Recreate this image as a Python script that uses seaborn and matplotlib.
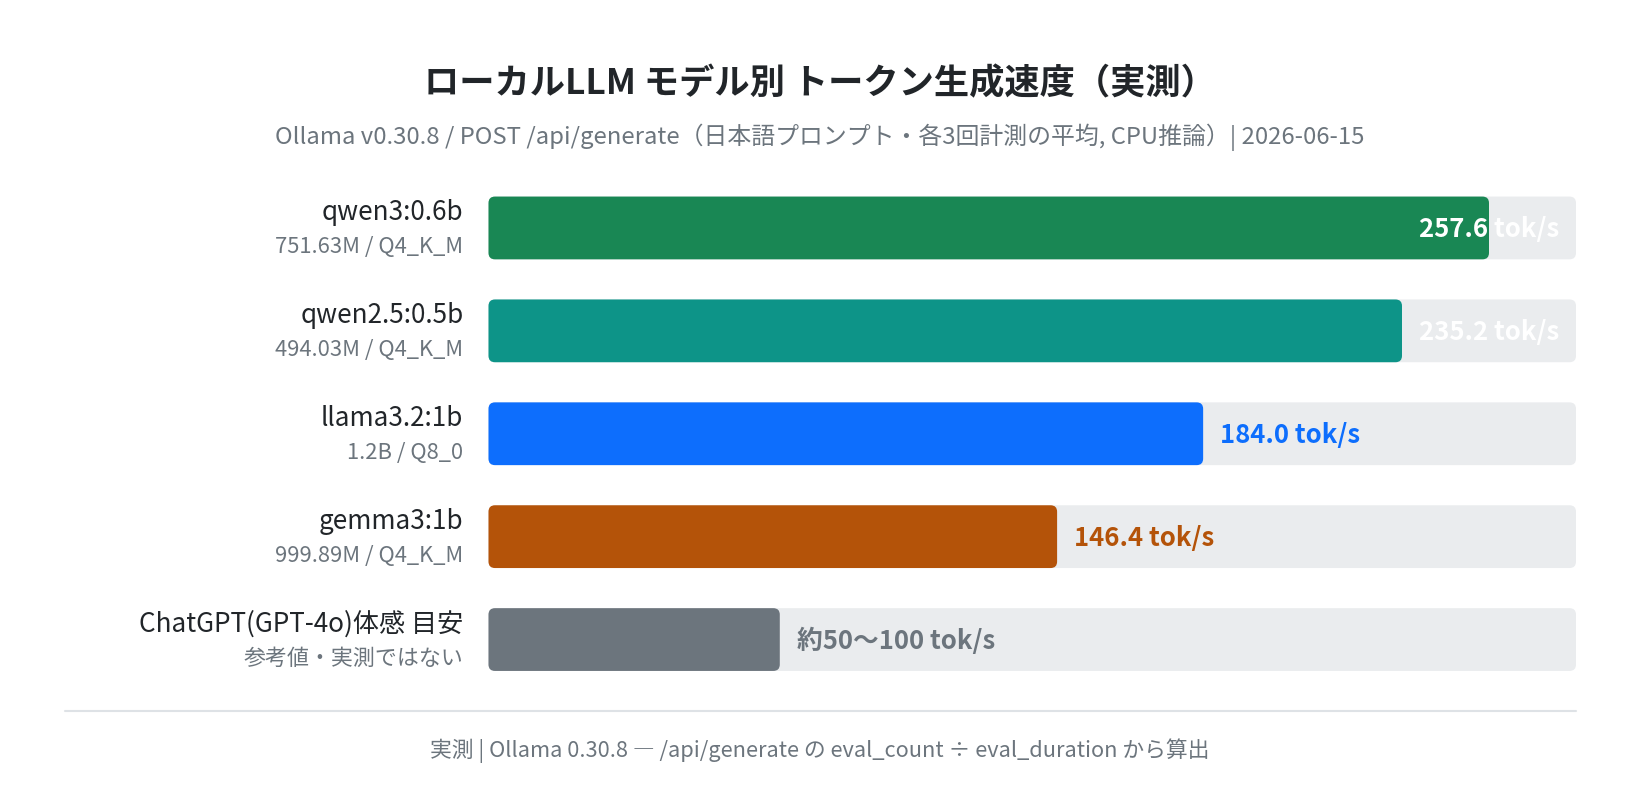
import matplotlib.pyplot as plt
import pandas as pd
import seaborn as sns
from matplotlib.patches import FancyBboxPatch, Rectangle

# data
models = ["qwen3:0.6b", "qwen2.5:0.5b", "llama3.2:1b", "gemma3:1b", "ChatGPT(GPT-4o)体感 目安"]
details = ["751.63M / Q4_K_M", "494.03M / Q4_K_M", "1.2B / Q8_0", "999.89M / Q4_K_M", "参考値・実測ではない"]
speeds = [257.6, 235.2, 184.0, 146.4, 75.0]
value_labels = ["257.6 tok/s", "235.2 tok/s", "184.0 tok/s", "146.4 tok/s", "約50〜100 tok/s"]
label_inside = [True, True, False, False, False]
colors = ["#198754", "#0d9488", "#0d6efd", "#b45309", "#6c757d"]
axis_max = 280

title = "ローカルLLM モデル別 トークン生成速度（実測）"
subtitle = "Ollama v0.30.8 / POST /api/generate（日本語プロンプト・各3回計測の平均, CPU推論）| 2026-06-15"
footer = "実測 | Ollama 0.30.8 ― /api/generate の eval_count ÷ eval_duration から算出"

df = pd.DataFrame({"model": models, "speed": speeds, "track": [axis_max] * len(models)})

sns.set_theme(style="white")
plt.rcParams["font.family"] = ["Noto Sans CJK JP", "DejaVu Sans"]

W, H = 1640, 806
ax_left, ax_right = 488.5, 1576
ax_top, ax_bottom = 176.5, 691
fig = plt.figure(figsize=(W / 100, H / 100), dpi=100)
ax = fig.add_axes([ax_left / W, 1 - ax_bottom / H, (ax_right - ax_left) / W, (ax_bottom - ax_top) / H])

sns.barplot(data=df, y="model", x="track", color="#e9ecef", width=0.61, ax=ax, orient="h")
sns.barplot(data=df, y="model", x="speed", hue="model", palette=colors, width=0.61,
            ax=ax, orient="h", legend=False, saturation=1)

ax.set_xlim(0, axis_max)
ax.set_ylim(4.5, -0.5)
ax.set_xlabel("")
ax.set_ylabel("")
ax.set_xticks([])
ax.set_yticks([])
for s in ax.spines.values():
    s.set_visible(False)

# rounded corners
x_per_px = axis_max / (ax_right - ax_left)
y_per_px = 5 / (ax_bottom - ax_top)
aspect = y_per_px / x_per_px
for p in list(ax.patches):
    if not isinstance(p, Rectangle):
        continue
    fb = FancyBboxPatch((p.get_x(), p.get_y()), p.get_width(), p.get_height(),
                        boxstyle=f"round,pad=0,rounding_size={6.5 * x_per_px}",
                        mutation_aspect=aspect, facecolor=p.get_facecolor(),
                        edgecolor="none", zorder=p.get_zorder())
    p.remove()
    ax.add_patch(fb)

# category labels and value labels
for i, (m, d, v, lab, inside, c) in enumerate(zip(models, details, speeds, value_labels, label_inside, colors)):
    ax.annotate(m, xy=(0, i), xytext=(-25, 15), textcoords="offset pixels",
                ha="right", va="center", fontsize=18.8, color="#212529")
    ax.annotate(d, xy=(0, i), xytext=(-25, -19), textcoords="offset pixels",
                ha="right", va="center", fontsize=15.8, color="#6c757d")
    if inside:
        ax.annotate(lab, xy=(axis_max, i), xytext=(-17, -2), textcoords="offset pixels",
                    ha="right", va="center", fontsize=18.5, fontweight="bold", color="white")
    else:
        ax.annotate(lab, xy=(v, i), xytext=(17, -2), textcoords="offset pixels",
                    ha="left", va="center", fontsize=18.5, fontweight="bold", color=c)

cx = 0.5
fig.text(cx, 1 - 84 / H, title, ha="center", va="center", fontsize=25.4,
         fontweight="bold", color="#212529")
fig.text(cx, 1 - 137 / H, subtitle, ha="center", va="center", fontsize=17.2, color="#6c757d")
fig.add_artist(plt.Line2D([65 / W, 1576 / W], [1 - 711 / H, 1 - 711 / H],
                          color="#dee2e6", lw=1.5))
fig.text(cx, 1 - 751 / H, footer, ha="center", va="center", fontsize=15.7, color="#6c757d")

fig.savefig("out.png", dpi=100, facecolor="white")
